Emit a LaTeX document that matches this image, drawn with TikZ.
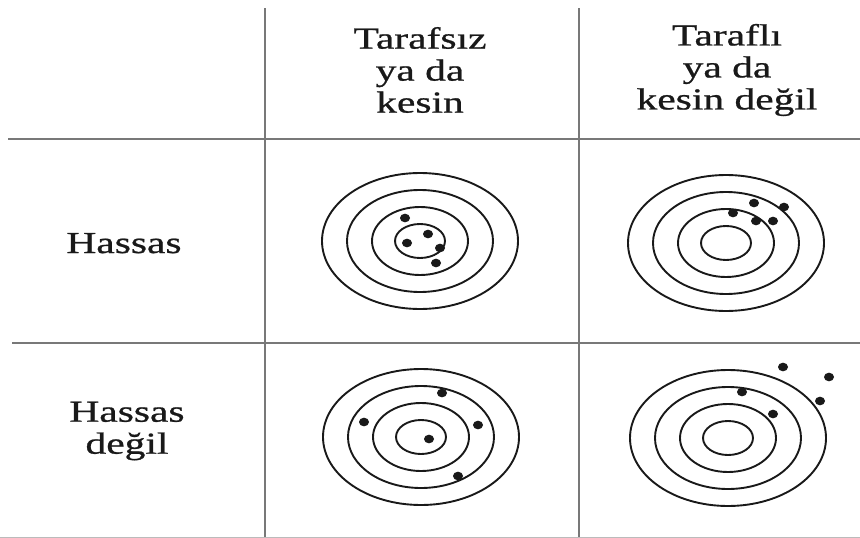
\documentclass[tikz,border=0pt]{standalone}
\usepackage{fontspec}
\usepackage{xcolor}
\usepackage{tikz}
\usetikzlibrary{positioning,calc}
\newfontfamily\cellfont[FakeStretch=1.36, FakeBold=0.8]{Liberation Serif}
\definecolor{inkdark}{RGB}{25, 25, 25}
\definecolor{rulegray}{RGB}{120, 120, 120}

\begin{document}
\begin{tikzpicture}[
    x=1pt, y=-1pt,
    rule/.style={draw=rulegray, line width=1.6pt},
    ring/.style={draw=inkdark, line width=1.9pt},
    hit/.style={fill=inkdark},
    label/.style={align=center, text=inkdark, inner sep=0pt, font=\cellfont\fontsize{30.5}{32}\selectfont}
]
    \useasboundingbox (0,0) rectangle (860,538);

    % Table rules
    \draw[rule] (265,8) -- (265,538);
    \draw[rule] (579,8) -- (579,538);
    \draw[rule] (8,139) -- (860,139);
    \draw[rule] (12,343) -- (860,343);
    \draw[draw=rulegray!50, line width=1pt] (0,537.5) -- (860,537.5);

    % Column headers
    \node[label, anchor=center] (unbiased) at (420,70) {Tarafsız\\ya da\\kesin};
    \node[label, anchor=center] (biased) at (727,70) {Taraflı\\ya da\\kesin değil};

    % Row headers
    \node[label, anchor=base] (precise) at (124,253) {Hassas};
    \node[label, anchor=center] (imprecise) at (127,431) {Hassas\\değil};

    % Targets
    \foreach \cx/\cy in {420/241, 726/243, 421/437, 728/438} {
        \foreach \rx/\ry in {98/68, 73/51, 48/34, 25/17}
            \draw[ring] (\cx,\cy) ellipse [x radius=\rx pt, y radius=\ry pt];
    }

    % Hits
    \foreach \hx/\hy in {405/218, 428/234, 407/243, 440/248, 436/263,
                         754/203, 784/207, 733/213, 756/221, 773/221,
                         442/393, 364/422, 478/425, 429/439, 458/476,
                         783/367, 829/377, 820/401, 742/392, 773/414}
        \fill[hit] (\hx,\hy) ellipse [x radius=5pt, y radius=4.3pt];

\end{tikzpicture}
\end{document}
